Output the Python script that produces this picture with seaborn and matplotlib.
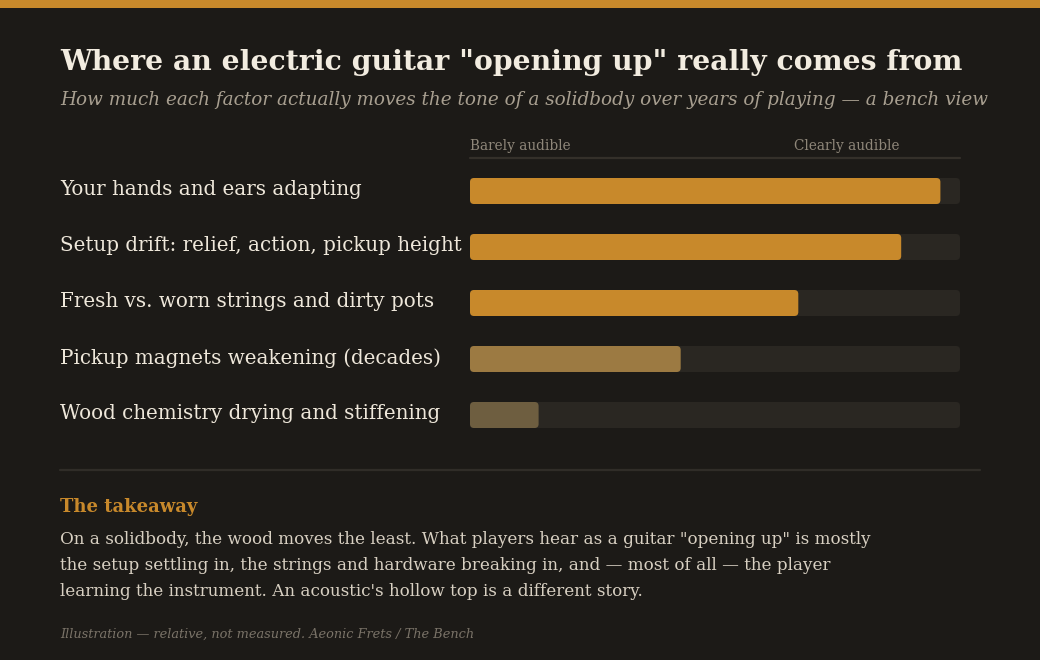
import matplotlib
matplotlib.use("Agg")
import matplotlib.pyplot as plt
import seaborn as sns
import pandas as pd
from matplotlib.patches import FancyBboxPatch, Rectangle
from matplotlib.lines import Line2D
import matplotlib.transforms as mtransforms

# ---- data ----
factors = [
    "Your hands and ears adapting",
    "Setup drift: relief, action, pickup height",
    "Fresh vs. worn strings and dirty pots",
    "Pickup magnets weakening (decades)",
    "Wood chemistry drying and stiffening",
]
impact = [96, 88, 67, 43, 14]
scale_max = 100
bar_colors = ["#c8892b", "#c8892b", "#c8892b", "#9c7a42", "#6e5e40"]
scale_labels = ["Barely audible", "Clearly audible"]
title = 'Where an electric guitar "opening up" really comes from'
subtitle = "How much each factor actually moves the tone of a solidbody over years of playing \u2014 a bench view"
takeaway_head = "The takeaway"
takeaway_lines = [
    'On a solidbody, the wood moves the least. What players hear as a guitar "opening up" is mostly',
    "the setup settling in, the strings and hardware breaking in, and \u2014 most of all \u2014 the player",
    "learning the instrument. An acoustic's hollow top is a different story.",
]
footer = "Illustration \u2014 relative, not measured. Aeonic Frets / The Bench"

BG = "#1c1a17"
TRACK = "#2a2722"
W, H = 1040, 660

sns.set_theme(style="white")
plt.rcParams["font.family"] = ["DejaVu Serif", "DejaVu Sans"]

fig = plt.figure(figsize=(W / 100, H / 100), dpi=100, facecolor=BG)

def fx(x):
    return x / W

def fy(y):
    return 1 - y / H

# top stripe
fig.patches.append(Rectangle((0, fy(8)), 1, 8 / H, transform=fig.transFigure,
                             facecolor="#c8892b", edgecolor="none", zorder=0))

# axes for bars
ax_left, ax_right = 470, 960
ax_top, ax_bot = 163, 443
ax = fig.add_axes([fx(ax_left), fy(ax_bot), (ax_right - ax_left) / W, (ax_bot - ax_top) / H])
ax.set_facecolor(BG)
ax.patch.set_alpha(0)

df = pd.DataFrame({"factor": factors, "impact": impact, "track": [scale_max] * len(factors)})
bar_h = 26 / 56

sns.barplot(data=df, y="factor", x="track", color=TRACK, width=bar_h, ax=ax,
            orient="h", saturation=1)
sns.barplot(data=df, y="factor", x="impact", hue="factor", palette=bar_colors,
            width=bar_h, ax=ax, orient="h", saturation=1, legend=False)

ax.set_xlim(0, scale_max)
ax.set_ylim(len(factors) - 0.5, -0.5)

# replace rectangles by rounded boxes
px_per_x = (ax_right - ax_left) / scale_max
px_per_y = (ax_bot - ax_top) / len(factors)
r_px = 4
aspect = px_per_x / px_per_y
old = list(ax.patches)
for p in old:
    x0, y0 = p.get_x(), p.get_y()
    w, h = p.get_width(), p.get_height()
    fc = p.get_facecolor()
    p.remove()
    rb = FancyBboxPatch((x0, y0), w, h,
                        boxstyle=f"round,pad=0,rounding_size={r_px / px_per_x}",
                        mutation_aspect=aspect, facecolor=fc, edgecolor="none")
    ax.add_patch(rb)

for s in ax.spines.values():
    s.set_visible(False)
ax.set_xticks([])
ax.set_yticks([])
ax.set_xlabel("")
ax.set_ylabel("")

# category labels
blend = mtransforms.blended_transform_factory(fig.transFigure, ax.transData)
for i, lab in enumerate(factors):
    ax.text(fx(60), i - 0.02, lab, transform=blend, ha="left", va="center",
            fontsize=14.3, color="#eee7da", clip_on=False)

# titles
fig.text(fx(60), fy(70), title, fontsize=20.3, fontweight="bold", color="#f2ece0",
         ha="left", va="baseline")
fig.text(fx(60), fy(105), subtitle, fontsize=13.2, style="italic", color="#a89f90",
         ha="left", va="baseline")

# scale header
fig.text(fx(470), fy(150), scale_labels[0], fontsize=9.8, color="#8f877a", ha="left", va="baseline")
fig.text(fx(900), fy(150), scale_labels[1], fontsize=9.8, color="#8f877a", ha="right", va="baseline")
fig.add_artist(Line2D([fx(470), fx(960)], [fy(157.5), fy(157.5)], transform=fig.transFigure,
                      color="#34302a", lw=1.6))

# separator
fig.add_artist(Line2D([fx(60), fx(980)], [fy(469.5), fy(469.5)], transform=fig.transFigure,
                      color="#302d28", lw=1.6))

fig.text(fx(60), fy(512), takeaway_head, fontsize=13.0, fontweight="bold", color="#c8892b",
         ha="left", va="baseline")
for i, line in enumerate(takeaway_lines):
    fig.text(fx(60), fy(544 + 26 * i), line, fontsize=12.1, color="#d8d0c2",
             ha="left", va="baseline")

fig.text(fx(60), fy(638), footer, fontsize=9.27, style="italic", color="#7a7368",
         ha="left", va="baseline")

fig.savefig("out.png", dpi=100, facecolor=BG)
